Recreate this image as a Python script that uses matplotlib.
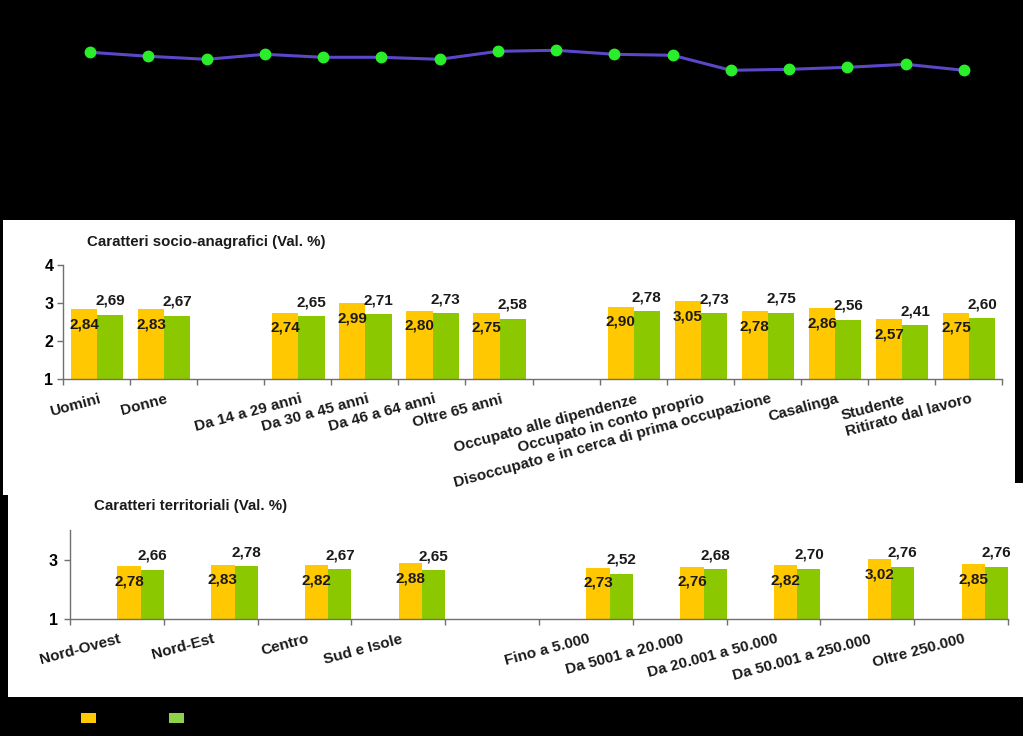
import matplotlib
matplotlib.use("Agg")
import matplotlib.pyplot as plt
from matplotlib.patches import Rectangle
from matplotlib.transforms import blended_transform_factory, offset_copy

plt.rcParams['font.family'] = ['Liberation Sans', 'DejaVu Sans']

# ---------------- data ----------------
trend = [2.92, 2.88, 2.85, 2.90, 2.87, 2.87, 2.85, 2.93, 2.94, 2.90, 2.89,
         2.74, 2.75, 2.77, 2.80, 2.74]

socio_labels = ["Uomini", "Donne", "", "Da 14 a 29 anni", "Da 30 a 45 anni",
                "Da 46 a 64 anni", "Oltre 65 anni", "",
                "Occupato alle dipendenze", "Occupato in conto proprio",
                "Disoccupato e in cerca di prima occupazione", "Casalinga",
                "Studente", "Ritirato dal lavoro"]
socio_yellow = [2.84, 2.83, None, 2.74, 2.99, 2.80, 2.75, None,
                2.90, 3.05, 2.78, 2.86, 2.57, 2.75]
socio_green = [2.69, 2.67, None, 2.65, 2.71, 2.73, 2.58, None,
               2.78, 2.73, 2.75, 2.56, 2.41, 2.60]

terr_labels = ["Nord-Ovest", "Nord-Est", "Centro", "Sud e Isole", "",
               "Fino a 5.000", "Da 5001 a 20.000", "Da 20.001 a 50.000",
               "Da 50.001 a 250.000", "Oltre 250.000"]
terr_yellow = [2.78, 2.83, 2.82, 2.88, None, 2.73, 2.76, 2.82, 3.02, 2.85]
terr_green = [2.66, 2.78, 2.67, 2.65, None, 2.52, 2.68, 2.70, 2.76, 2.76]

title_socio = "Caratteri socio-anagrafici (Val. %)"
title_terr = "Caratteri territoriali (Val. %)"

YELLOW = "#FFC800"
GREEN = "#8CC800"
W, H = 1023, 736

fig = plt.figure(figsize=(W / 100, H / 100), dpi=100, facecolor="black")


def fx(px):
    return px / W


def fy(py):
    return 1 - py / H


def rect_px(x0, y0, x1, y1, color, z=-1):
    fig.patches.append(Rectangle((fx(x0), fy(y1)), fx(x1 - x0), (y1 - y0) / H,
                                 transform=fig.transFigure, facecolor=color,
                                 edgecolor="none", zorder=z))


# white panels
rect_px(3, 220, 1015, 495, "white")
rect_px(8, 483, 1023, 697, "white")

# ---------------- top line ----------------
axl = fig.add_axes([fx(90), fy(218), fx(964 - 90), 218 / H])
axl.set_facecolor("none")
axl.plot(range(len(trend)), trend, color="#5A48C8", lw=2.2, marker="o",
         ms=7.5, mfc="#2BEE2B", mec="#2BEE2B", zorder=3, clip_on=False)
axl.set_xlim(0, len(trend) - 1)
axl.set_ylim(1.263, 3.443)
axl.axis("off")


def bar_panel(rect, labels, yv, gv, yoff, ywid, goff, gwid, yticks, lab_dy,
              ypad):
    ax = fig.add_axes(rect)
    ax.set_facecolor("none")
    n = len(labels)
    for i in range(n):
        if yv[i] is None:
            continue
        ax.bar(i + yoff, yv[i] - 1, bottom=1, width=ywid, align="edge",
               color=YELLOW, zorder=2)
        ax.bar(i + goff, gv[i] - 1, bottom=1, width=gwid, align="edge",
               color=GREEN, zorder=2)
        ax.annotate(f"{yv[i]:.2f}".replace(".", ","),
                    (i + yoff + ywid / 2, yv[i]), xytext=(0, -lab_dy),
                    textcoords="offset pixels", ha="center", va="center",
                    fontsize=11, fontweight="bold", color="#1a1a1a", zorder=4)
        ax.annotate(f"{gv[i]:.2f}".replace(".", ","),
                    (i + goff + gwid / 2, gv[i]), xytext=(0, lab_dy - 1),
                    textcoords="offset pixels", ha="center", va="center",
                    fontsize=11, fontweight="bold", color="#1a1a1a", zorder=4)
    ax.set_xlim(0, n)
    ax.set_ylim(1, 4)
    ax.set_yticks(yticks)
    ax.set_yticklabels([str(t) for t in yticks], fontsize=11.5,
                       fontweight="bold")
    ax.set_xticks(range(n + 1))
    ax.set_xticklabels([])
    for s in ("top", "right"):
        ax.spines[s].set_visible(False)
    for s in ("left", "bottom"):
        ax.spines[s].set_color("#707070")
        ax.spines[s].set_linewidth(1.0)
    ax.tick_params(axis="both", direction="out", length=4, color="#707070",
                   width=1.0)
    ax.tick_params(axis="y", pad=ypad)
    tr = blended_transform_factory(ax.transData, ax.transAxes)
    tr = offset_copy(tr, fig=fig, x=2, y=-13, units="dots")
    for i, lab in enumerate(labels):
        if lab:
            ax.text(i + 0.5, 0, lab, transform=tr, rotation=15,
                    rotation_mode="anchor", ha="right", va="top",
                    fontsize=11, fontweight="bold", color="#1a1a1a")
    return ax


ax1 = bar_panel([fx(63), fy(379), fx(1002 - 63), (379 - 265) / H],
                socio_labels, socio_yellow, socio_green,
                0.12, 0.39, 0.51, 0.39, [1, 2, 3, 4], 15, 3)
ax2 = bar_panel([fx(70), fy(619), fx(1008 - 70), (619 - 530) / H],
                terr_labels, terr_yellow, terr_green,
                0.505, 0.25, 0.755, 0.245, [1, 3], 15, 5)

fig.text(fx(87), fy(242), title_socio, ha="left", va="center", fontsize=10.8,
         fontweight="bold", color="#1a1a1a")
fig.text(fx(94), fy(506), title_terr, ha="left", va="center", fontsize=10.8,
         fontweight="bold", color="#1a1a1a")

# legend swatches
rect_px(81, 713, 96, 723, YELLOW, z=5)
rect_px(169, 713, 184, 723, "#8CD24A", z=5)

fig.savefig("out.png", dpi=100, facecolor="black")
